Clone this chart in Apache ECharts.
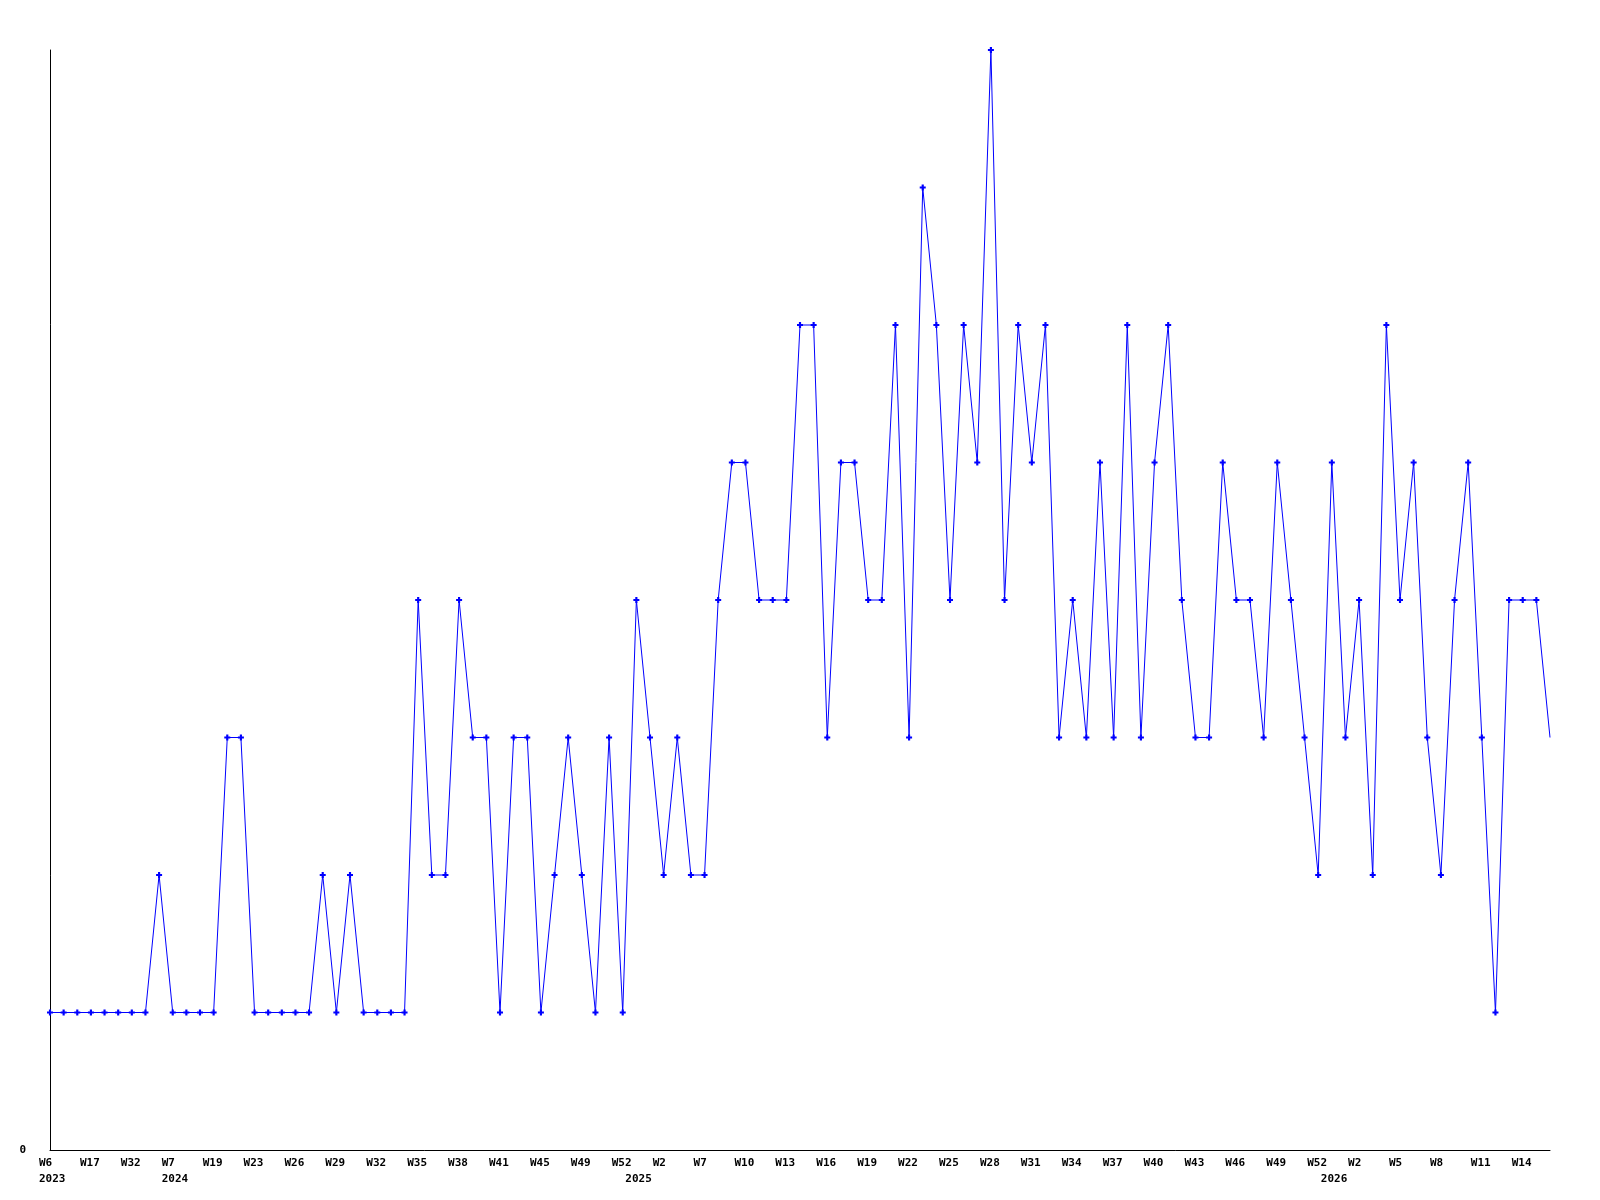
<!DOCTYPE html>
<html>
<head>
<meta charset="utf-8">
<script src="https://cdn.jsdelivr.net/npm/echarts@6/dist/echarts.min.js"></script>
<style>
html,body{margin:0;padding:0;background:#fff;}
#chart{width:1600px;height:1200px;}
</style>
</head>
<body>
<div id="chart"></div>
<script>
// Week categories (one per data point)
const weeks = [
  'W6','W9','W13','W17','W22','W27','W32','W40','W47','W7',
  'W11','W15','W19','W20','W22','W23','W24','W25','W26','W27',
  'W28','W29','W30','W31','W32','W33','W34','W35','W36','W37',
  'W38','W39','W40','W41','W42','W44','W45','W46','W48','W49',
  'W50','W51','W52','W0','W1','W2','W4','W6','W7','W8',
  'W9','W10','W11','W12','W13','W14','W15','W16','W17','W18',
  'W19','W20','W21','W22','W23','W24','W25','W26','W27','W28',
  'W29','W30','W31','W32','W33','W34','W35','W36','W37','W38',
  'W39','W40','W41','W42','W43','W44','W45','W46','W47','W48',
  'W49','W50','W51','W52','W0','W1','W2','W3','W4','W5',
  'W6','W7','W8','W9','W10','W11','W12','W13','W14','W15',
  'W16'
];
// Series values
const values = [
  1,1,1,1,1,1,1,1,2,1,
  1,1,1,3,3,1,1,1,1,1,
  2,1,2,1,1,1,1,4,2,2,
  4,3,3,1,3,3,1,2,3,2,
  1,3,1,4,3,2,3,2,2,4,
  5,5,4,4,4,6,6,3,5,5,
  4,4,6,3,7,6,4,6,5,8,
  4,6,5,6,3,4,3,5,3,6,
  3,5,6,4,3,3,5,4,4,3,
  5,4,3,2,5,3,4,2,6,4,
  5,3,2,4,5,3,1,4,4,4,
  3
];
// Year tick labels: index of first point of each year
const yearStarts = [0, 9, 43, 94];
const yearNames = ['2023', '2024', '2025', '2026'];

const yearAt = {};
yearStarts.forEach((idx, k) => { yearAt[idx] = yearNames[k]; });

const font = {
  fontFamily: 'DejaVu Sans Mono',
  fontWeight: 'bold',
  fontSize: 11,
  color: '#000'
};

const seriesData = values.map((v, i) =>
  i === values.length - 1 ? { value: v, symbol: 'none' } : v
);

const chart = echarts.init(document.getElementById('chart'));
chart.setOption({
  animation: false,
  backgroundColor: '#fff',
  grid: { left: 50, right: 50, top: 50, bottom: 50, containLabel: false },
  xAxis: [
    {
      type: 'category',
      data: weeks,
      boundaryGap: false,
      axisLine: { show: true, lineStyle: { color: '#000', width: 1 } },
      axisTick: { show: false },
      splitLine: { show: false },
      axisLabel: {
        interval: (index) => index % 3 === 0,
        margin: 8,
        align: 'center',
        formatter: (v) => '{a|' + v + '}',
        rich: { a: Object.assign({ width: 22, align: 'left' }, font) }
      }
    },
    {
      type: 'category',
      data: weeks,
      boundaryGap: false,
      position: 'bottom',
      offset: 16,
      axisLine: { show: false },
      axisTick: { show: false },
      splitLine: { show: false },
      axisLabel: {
        interval: (index) => yearAt[index] !== undefined,
        margin: 8,
        align: 'center',
        formatter: (v, index) => '{a|' + (yearAt[index] || '') + '}',
        rich: { a: Object.assign({ width: 22, align: 'left' }, font) }
      }
    }
  ],
  yAxis: {
    type: 'value',
    min: 0,
    max: 8,
    interval: 8,
    axisLine: { show: true, lineStyle: { color: '#000', width: 1 } },
    axisTick: { show: false },
    splitLine: { show: false },
    axisLabel: Object.assign({
      margin: 24,
      formatter: (v) => (v === 0 ? '0' : '')
    }, font)
  },
  series: [{
    type: 'line',
    xAxisIndex: 0,
    data: seriesData,
    symbol: 'path://M1.6,0H3.4V1.6H5V3.4H3.4V5H1.6V3.4H0V1.6H1.6Z',
    symbolSize: 6,
    showAllSymbol: true,
    lineStyle: { color: '#0000ff', width: 1 },
    itemStyle: { color: '#0000ff' },
    emphasis: { disabled: true }
  }]
});
</script>
</body>
</html>
